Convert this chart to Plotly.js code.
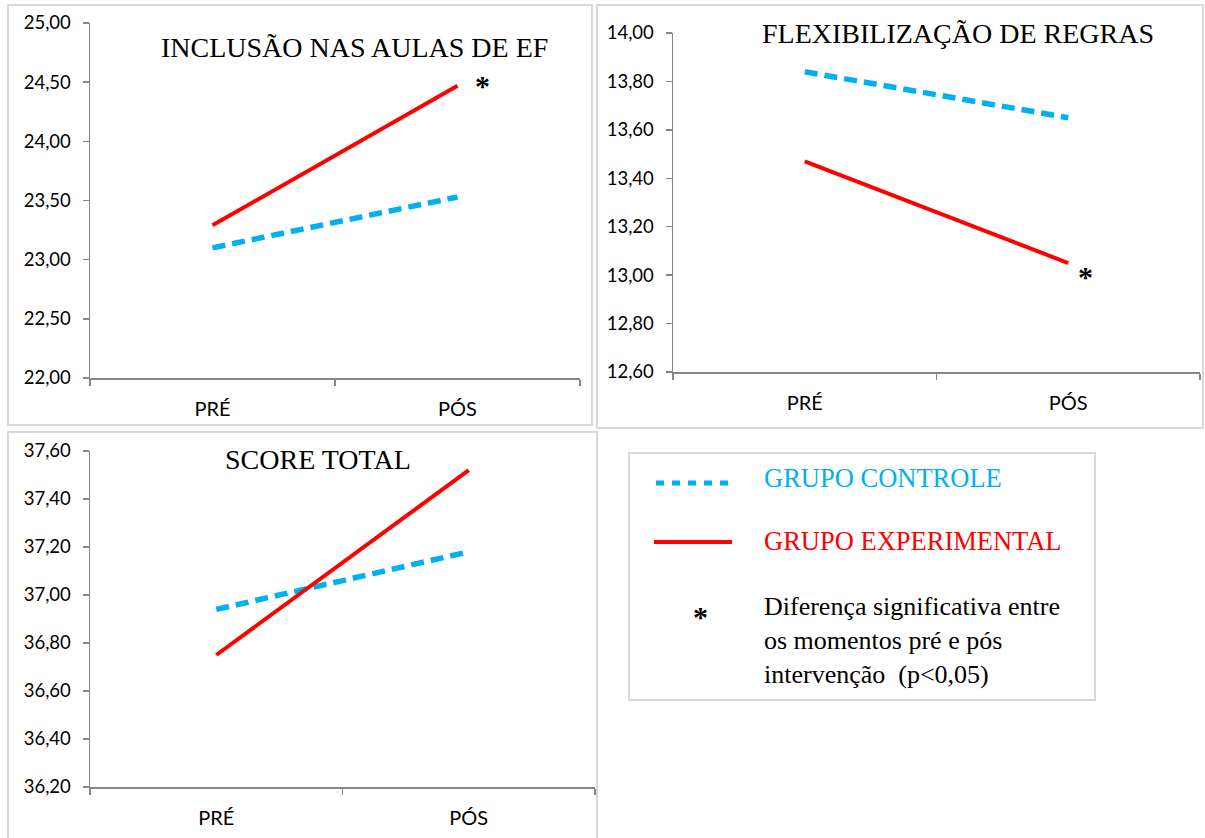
<!DOCTYPE html>
<html>
<head>
<meta charset="utf-8">
<script src="https://cdn.plot.ly/plotly-3.0.1.min.js"></script>
<style>html,body{margin:0;padding:0;background:#fff}#chart{width:1205px;height:838px}</style>
</head>
<body>
<div id="chart"></div>
<script>
// ---- data ----
const momentos = ["PRÉ", "PÓS"];
const inclusaoControle = [23.10, 23.53];
const inclusaoExperimental = [23.29, 24.47];
const flexControle = [13.84, 13.65];
const flexExperimental = [13.47, 13.05];
const scoreControle = [36.94, 37.18];
const scoreExperimental = [36.75, 37.52];
const panelTitles = ["INCLUSÃO NAS AULAS DE EF", "FLEXIBILIZAÇÃO DE REGRAS", "SCORE TOTAL"];
const legendLabels = ["GRUPO CONTROLE", "GRUPO EXPERIMENTAL"];
const noteText = "Diferença significativa entre<br>os momentos pré e pós<br>intervenção  (p<0,05)";

const W = 1205, H = 838;
const BLUE = "#00B0F0", RED = "#FF0000";
const px = v => v / W, py = v => 1 - v / H;

function ctrl(y, xa, ya) {
  return {x: momentos, y: y, xaxis: xa, yaxis: ya, mode: "lines", type: "scatter",
    line: {color: BLUE, width: 5.5, dash: "13px,7px"}, hoverinfo: "skip", showlegend: false};
}
function exp(y, xa, ya) {
  return {x: momentos, y: y, xaxis: xa, yaxis: ya, mode: "lines", type: "scatter",
    line: {color: RED, width: 4}, hoverinfo: "skip", showlegend: false};
}
const data = [
  ctrl(inclusaoControle, "x", "y"), exp(inclusaoExperimental, "x", "y"),
  ctrl(flexControle, "x2", "y2"), exp(flexExperimental, "x2", "y2"),
  ctrl(scoreControle, "x3", "y3"), exp(scoreExperimental, "x3", "y3")
];

const tickFont = {family: "Lato, 'Open Sans', sans-serif", size: 18.5, color: "#000"};
const xTickFont = {family: "Lato, 'Open Sans', sans-serif", size: 20, color: "#000"};
function xax(d0, d1, anchor) {
  return {domain: [px(d0), px(d1)], anchor: anchor, type: "category", range: [-0.5, 1.5],
    showline: true, linecolor: "#868686", linewidth: 1.5, showgrid: false, zeroline: false,
    ticks: "outside", tickson: "boundaries", ticklen: 6, tickcolor: "#868686", tickwidth: 1.5,
    tickfont: xTickFont, ticklabelstandoff: 12, fixedrange: true};
}
function yax(t, b, r, dt, anchor) {
  return {domain: [py(b), py(t)], anchor: anchor, range: r, dtick: dt, tick0: r[0],
    tickformat: ".2f", showline: true, linecolor: "#868686", linewidth: 1.5, showgrid: false,
    zeroline: false, ticks: "outside", ticklen: 6, tickcolor: "#868686", tickwidth: 1.5,
    tickfont: tickFont, ticklabelstandoff: 8, fixedrange: true};
}

const frame = (x0, y0, x1, y1) => ({type: "rect", xref: "paper", yref: "paper",
  x0: px(x0), x1: px(x1), y0: py(y1), y1: py(y0), line: {color: "#d9d9d9", width: 2}, fillcolor: "rgba(0,0,0,0)", layer: "below"});

const serif = "'Liberation Serif', 'Times New Roman', serif";
const ann = [];
ann.push({xref: "paper", yref: "paper", x: px(354), y: py(47), text: panelTitles[0], showarrow: false,
  font: {family: serif, size: 28, color: "#000"}, xanchor: "center", yanchor: "middle"});
ann.push({xref: "paper", yref: "paper", x: px(958), y: py(34), text: panelTitles[1], showarrow: false,
  font: {family: serif, size: 28, color: "#000"}, xanchor: "center", yanchor: "middle"});
ann.push({xref: "paper", yref: "paper", x: px(318), y: py(460), text: panelTitles[2], showarrow: false,
  font: {family: serif, size: 28, color: "#000"}, xanchor: "center", yanchor: "middle"});
// significance asterisks tied to data points
ann.push({xref: "x", yref: "y", x: momentos[1], y: inclusaoExperimental[1], text: "<b>*</b>", showarrow: false,
  xshift: 25, yshift: 0, font: {family: serif, size: 30, color: "#000"}});
ann.push({xref: "x2", yref: "y2", x: momentos[1], y: flexExperimental[1], text: "<b>*</b>", showarrow: false,
  xshift: 17, yshift: -13, font: {family: serif, size: 30, color: "#000"}});
// legend texts
ann.push({xref: "paper", yref: "paper", x: px(762), y: py(478), text: legendLabels[0], showarrow: false,
  xanchor: "left", yanchor: "middle", font: {family: serif, size: 26.5, color: BLUE}});
ann.push({xref: "paper", yref: "paper", x: px(762), y: py(541), text: legendLabels[1], showarrow: false,
  xanchor: "left", yanchor: "middle", font: {family: serif, size: 26.5, color: RED}});
ann.push({xref: "paper", yref: "paper", x: px(700), y: py(616), text: "<b>*</b>", showarrow: false,
  xanchor: "center", yanchor: "middle", font: {family: serif, size: 30, color: "#000"}});
ann.push({xref: "paper", yref: "paper", x: px(762), y: py(640), text: noteText, showarrow: false,
  xanchor: "left", yanchor: "middle", align: "left", font: {family: serif, size: 26, color: "#000"}});

const shapes = [
  frame(8, 5, 592, 425), frame(597, 5, 1203, 428), frame(8, 432, 597, 845), frame(629, 453, 1095, 700),
  {type: "line", xref: "paper", yref: "paper", x0: px(656), x1: px(736), y0: py(483), y1: py(483),
    line: {color: BLUE, width: 5, dash: "8px,8px"}},
  {type: "line", xref: "paper", yref: "paper", x0: px(654), x1: px(732), y0: py(542), y1: py(542),
    line: {color: RED, width: 4}}
];

const layout = {
  width: W, height: H, margin: {l: 0, r: 0, t: 0, b: 0},
  paper_bgcolor: "#fff", plot_bgcolor: "rgba(0,0,0,0)", showlegend: false,
  separators: ",.",
  xaxis: xax(90, 580, "y"), yaxis: yax(23, 378, [22, 25], 0.5, "x"),
  xaxis2: xax(673, 1200, "y2"), yaxis2: yax(33, 372, [12.6, 14], 0.2, "x2"),
  xaxis3: xax(90, 595, "y3"), yaxis3: yax(451, 787, [36.2, 37.6], 0.2, "x3"),
  shapes: shapes, annotations: ann
};
Plotly.newPlot("chart", data, layout, {staticPlot: true, displayModeBar: false});
</script>
</body>
</html>
